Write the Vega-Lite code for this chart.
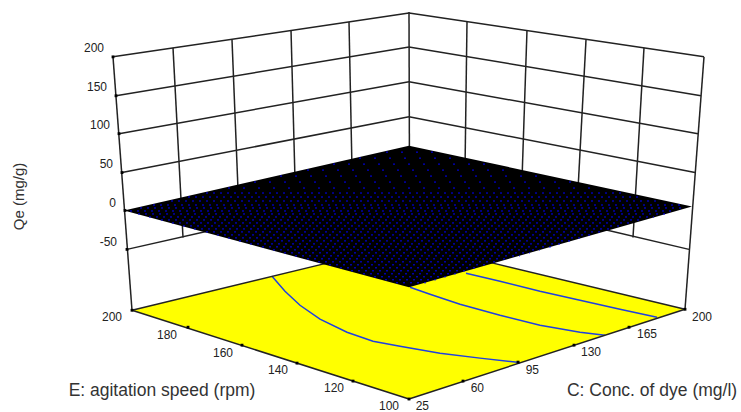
{"$schema":"https://vega.github.io/schema/vega-lite/v6.json","width":741,"height":412,"padding":0,"autosize":{"type":"fit","contains":"padding"},"background":"white","config":{"view":{"stroke":null}},
"datasets":{
"floor":[{"u":132,"v":311,"v2":311},{"u":409,"v":244,"v2":400},{"u":685,"v":310,"v2":310}],
"surface":[{"u":124,"v":211,"v2":211},{"u":409,"v":146,"v2":288},{"u":692,"v":207,"v2":207}],
"grid":[
{"id":"top-l","u":113,"v":57},{"id":"top-l","u":409,"v":13},{"id":"top-r","u":409,"v":13},{"id":"top-r","u":704,"v":57},
{"id":"z150-l","u":116,"v":96},{"id":"z150-l","u":409,"v":47},{"id":"z150-r","u":409,"v":47},{"id":"z150-r","u":701,"v":96},
{"id":"z100-l","u":119,"v":134},{"id":"z100-l","u":409,"v":82},{"id":"z100-r","u":409,"v":82},{"id":"z100-r","u":698,"v":134},
{"id":"z50-l","u":122,"v":173},{"id":"z50-l","u":409,"v":117},{"id":"z50-r","u":409,"v":117},{"id":"z50-r","u":695,"v":173},
{"id":"z-50-l","u":127,"v":250},{"id":"z-50-l","u":215,"v":230},{"id":"z-50-r","u":600,"v":229},{"id":"z-50-r","u":689,"v":250},
{"id":"c-l","u":113,"v":57},{"id":"c-l","u":132,"v":311},{"id":"c-r","u":704,"v":57},{"id":"c-r","u":685,"v":310},
{"id":"v1","u":173,"v":48},{"id":"v1","u":183,"v":238},{"id":"v2","u":232,"v":40},{"id":"v2","u":238,"v":190},{"id":"v3","u":291,"v":30},{"id":"v3","u":295,"v":180},{"id":"v4","u":349,"v":22},{"id":"v4","u":352,"v":170},{"id":"v5","u":409,"v":12},{"id":"v5","u":409.4,"v":150},
{"id":"v6","u":467,"v":22},{"id":"v6","u":465,"v":170},{"id":"v7","u":527,"v":30},{"id":"v7","u":522,"v":180},{"id":"v8","u":586,"v":40},{"id":"v8","u":578,"v":190},{"id":"v9","u":644,"v":48},{"id":"v9","u":633,"v":238},
{"id":"f1","u":132,"v":311},{"id":"f1","u":409,"v":400},{"id":"f2","u":409,"v":400},{"id":"f2","u":685,"v":310},{"id":"f3","u":132,"v":311},{"id":"f3","u":330,"v":263},{"id":"f4","u":490,"v":263},{"id":"f4","u":685,"v":310}],
"contours":[
{"id":"a","u":272,"v":277},{"id":"a","u":285,"v":292},{"id":"a","u":300,"v":306},{"id":"a","u":320,"v":320},{"id":"a","u":347,"v":333},{"id":"a","u":373,"v":342},{"id":"a","u":400,"v":347},{"id":"a","u":440,"v":354},{"id":"a","u":480,"v":359},{"id":"a","u":520,"v":363.5},
{"id":"b","u":410,"v":288},{"id":"b","u":430,"v":295},{"id":"b","u":460,"v":305},{"id":"b","u":500,"v":316},{"id":"b","u":540,"v":326},{"id":"b","u":580,"v":333},{"id":"b","u":605,"v":336},
{"id":"c","u":466,"v":274},{"id":"c","u":500,"v":282},{"id":"c","u":540,"v":292},{"id":"c","u":580,"v":301},{"id":"c","u":620,"v":310},{"id":"c","u":657,"v":318}],
"sparse":[
{"r":152,"u":386,"v":152.5},{"r":152,"u":434,"v":152.5},{"r":158,"u":359,"v":158.5},{"r":158,"u":462,"v":158.5},{"r":164,"u":333,"v":164.5},{"r":164,"u":489,"v":164.5},{"r":170,"u":307,"v":170.5},{"r":170,"u":517,"v":170.5},{"r":176,"u":280,"v":176.5},{"r":176,"u":545,"v":176.5},{"r":182,"u":254,"v":182.5},{"r":182,"u":573,"v":182.5},{"r":188,"u":228,"v":188.5},{"r":188,"u":601,"v":188.5}],
"dense":[
{"r":193,"u":206,"v":193.5},{"r":193,"u":624,"v":193.5},{"r":197,"u":188,"v":197.5},{"r":197,"u":643,"v":197.5},{"r":201,"u":171,"v":201.5},{"r":201,"u":661,"v":201.5},{"r":205,"u":153,"v":205.5},{"r":205,"u":680,"v":205.5},{"r":208,"u":140,"v":208.5},{"r":208,"u":685,"v":208.5},{"r":211,"u":130,"v":211.5},{"r":211,"u":675,"v":211.5},{"r":214,"u":138,"v":214.5},{"r":214,"u":665,"v":214.5},{"r":217,"u":149,"v":217.5},{"r":217,"u":654,"v":217.5},{"r":220,"u":161,"v":220.5},{"r":220,"u":644,"v":220.5},{"r":223,"u":172,"v":223.5},{"r":223,"u":634,"v":223.5},{"r":226,"u":183,"v":226.5},{"r":226,"u":623,"v":226.5},{"r":229,"u":194,"v":229.5},{"r":229,"u":613,"v":229.5},{"r":232,"u":206,"v":232.5},{"r":232,"u":603,"v":232.5},{"r":235,"u":217,"v":235.5},{"r":235,"u":592,"v":235.5},{"r":238,"u":228,"v":238.5},{"r":238,"u":582,"v":238.5},{"r":241,"u":239,"v":241.5},{"r":241,"u":571,"v":241.5},{"r":244,"u":250,"v":244.5},{"r":244,"u":561,"v":244.5},{"r":247,"u":262,"v":247.5},{"r":247,"u":551,"v":247.5},{"r":250,"u":273,"v":250.5},{"r":250,"u":540,"v":250.5},{"r":253,"u":284,"v":253.5},{"r":253,"u":530,"v":253.5},{"r":256,"u":295,"v":256.5},{"r":256,"u":520,"v":256.5},{"r":259,"u":307,"v":259.5},{"r":259,"u":509,"v":259.5},{"r":262,"u":318,"v":262.5},{"r":262,"u":499,"v":262.5},{"r":265,"u":329,"v":265.5},{"r":265,"u":488,"v":265.5},{"r":268,"u":340,"v":268.5},{"r":268,"u":478,"v":268.5},{"r":271,"u":351,"v":271.5},{"r":271,"u":468,"v":271.5},{"r":274,"u":363,"v":274.5},{"r":274,"u":457,"v":274.5},{"r":277,"u":374,"v":277.5},{"r":277,"u":447,"v":277.5},{"r":280,"u":385,"v":280.5},{"r":280,"u":437,"v":280.5},{"r":283,"u":396,"v":283.5},{"r":283,"u":426,"v":283.5}],
"ticks":[
{"u":113,"v":57},{"u":116,"v":96},{"u":119,"v":134},{"u":122,"v":173},{"u":125,"v":211},{"u":127,"v":250},{"u":132,"v":311},{"u":685,"v":310},{"u":409,"v":400},
{"u":188,"v":328},{"u":242,"v":346},{"u":297,"v":364},{"u":353,"v":382},{"u":463,"v":382},{"u":518,"v":363},{"u":574,"v":346},{"u":629,"v":328}],
"ticklabels":[
{"label":"200","u":104,"v":48},{"label":"150","u":107,"v":87},{"label":"100","u":110,"v":125},{"label":"50","u":113,"v":164},{"label":"0","u":116,"v":203},{"label":"-50","u":117,"v":243},
{"label":"200","u":122,"v":318},{"label":"180","u":177,"v":336},{"label":"160","u":233,"v":353.5},{"label":"140","u":288,"v":371},{"label":"120","u":344,"v":389},{"label":"100","u":399,"v":407},
{"label":"25","u":429,"v":407},{"label":"60","u":484,"v":389},{"label":"95","u":539,"v":371},{"label":"130","u":601,"v":353},{"label":"165","u":657,"v":335},{"label":"200","u":712,"v":318}],
"titles":[{"label":"E: agitation speed (rpm)","u":162,"v":392},{"label":"C: Conc. of dye (mg/l)","u":652,"v":392}],
"ytitle":[{"label":"Qe (mg/g)","u":19,"v":197}]
},
"encoding":{"x":{"field":"u","type":"quantitative","axis":null,"scale":{"domain":[0,741],"nice":false,"zero":false}},"y":{"field":"v","type":"quantitative","axis":null,"scale":{"domain":[412,0],"nice":false,"zero":false}}},
"layer":[
{"data":{"name":"floor"},"mark":{"type":"area","fill":"#ffff00","orient":"vertical"},"encoding":{"y2":{"field":"v2"}}},
{"data":{"name":"contours"},"mark":{"type":"line","stroke":"#2040e0","strokeWidth":1.5},"encoding":{"detail":{"field":"id"}}},
{"data":{"name":"grid"},"mark":{"type":"line","stroke":"#222222","strokeWidth":1.5},"encoding":{"detail":{"field":"id"}}},
{"data":{"name":"surface"},"mark":{"type":"area","fill":"#000000","orient":"vertical"},"encoding":{"y2":{"field":"v2"}}},
{"data":{"name":"sparse"},"mark":{"type":"line","stroke":"#0000ff","strokeWidth":1,"strokeDash":[2,13]},"encoding":{"detail":{"field":"r"}}},
{"data":{"name":"dense"},"mark":{"type":"line","stroke":"#0000ff","strokeWidth":1,"strokeDash":[2,5]},"encoding":{"detail":{"field":"r"}}},
{"data":{"name":"ticks"},"mark":{"type":"point","filled":true,"shape":"square","size":8,"color":"#000000","opacity":1}},
{"data":{"name":"ticklabels"},"mark":{"type":"text","font":"Liberation Sans","fontSize":12,"align":"right","baseline":"middle","color":"#222222"},"encoding":{"text":{"field":"label"}}},
{"data":{"name":"titles"},"mark":{"type":"text","font":"Liberation Sans","fontSize":17.5,"align":"center","baseline":"middle","color":"#333333"},"encoding":{"text":{"field":"label"}}},
{"data":{"name":"ytitle"},"mark":{"type":"text","font":"Liberation Sans","fontSize":15,"align":"center","baseline":"middle","angle":270,"color":"#333333"},"encoding":{"text":{"field":"label"}}}
]}
